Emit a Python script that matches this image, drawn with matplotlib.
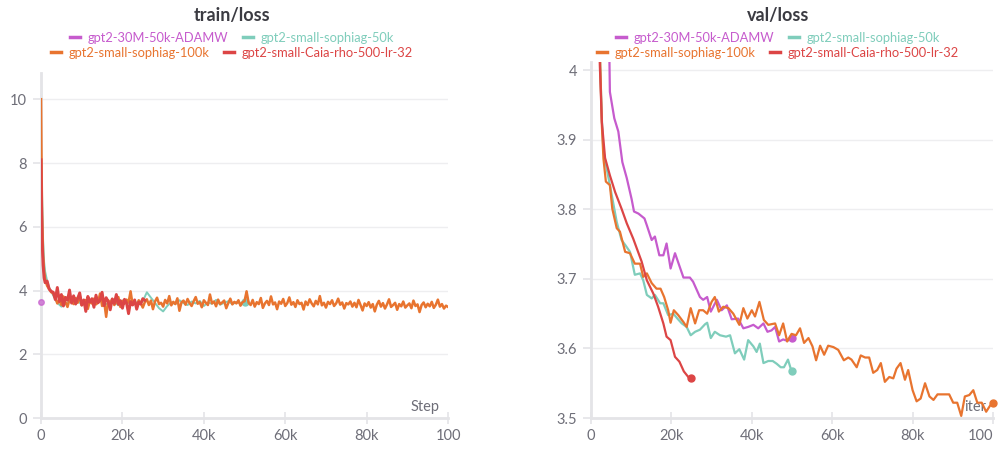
import numpy as np
import matplotlib
matplotlib.use("Agg")
import matplotlib.pyplot as plt
from matplotlib.lines import Line2D

plt.rcParams['font.family'] = ['Lato', 'DejaVu Sans']

# ---- colours / labels ----
names = ["gpt2-30M-50k-ADAMW", "gpt2-small-sophiag-50k",
         "gpt2-small-sophiag-100k", "gpt2-small-Caia-rho-500-lr-32"]
colors = ["#c65bcd", "#7fcdbb", "#e8742f", "#dc4545"]

# ---- train/loss ----
LOG_EVERY = 500

adamw_train_steps = [0]
adamw_train = [3.63]

teal_train_head_steps = [0, 100, 250, 500, 750, 1000, 1500, 2000, 3000, 4000, 5000]
teal_train_head = [10.6, 8.9, 7.0, 5.6, 4.9, 4.6, 4.3, 4.1, 3.85, 3.62, 3.5]
teal_train_tail = [3.58, 3.66, 3.61, 3.70, 3.55, 3.64, 3.68, 3.59, 3.62, 3.72,
                   3.57, 3.63, 3.66, 3.54, 3.69, 3.61, 3.58, 3.65, 3.60, 3.67,
                   3.95, 3.78, 3.62, 3.45, 3.35, 3.52, 3.64, 3.58, 3.70, 3.61,
                   3.55, 3.66, 3.60, 3.68, 3.52, 3.63, 3.59, 3.71, 3.56, 3.62,
                   3.67, 3.58, 3.64, 3.60, 3.65]

orange_train_head_steps = [0, 100, 250, 500, 750, 1000, 1500, 2000, 2500]
orange_train_head = [10.0, 8.3, 6.4, 5.1, 4.6, 4.35, 4.15, 4.05, 3.95]
orange_train_tail = [
    3.92, 3.78, 3.60, 3.71, 3.55, 3.82, 3.64, 3.49, 3.73, 3.68,
    3.58, 3.77, 3.62, 3.85, 3.54, 3.66, 3.71, 3.43, 3.69, 3.60,
    3.75, 3.57, 3.63, 3.91, 3.52, 3.67, 3.18, 3.70, 3.61, 3.74,
    3.55, 3.65, 3.80, 3.49, 3.68, 3.59, 3.72, 3.63, 3.98, 3.56,
    3.66, 3.52, 3.70, 3.61, 3.47,
    3.64, 3.73, 3.55, 3.69, 3.42, 3.66, 3.78, 3.58, 3.62, 3.50,
    3.71, 3.60, 3.83, 3.54, 3.65, 3.58, 3.76, 3.37, 3.63, 3.69,
    3.56, 3.74, 3.61, 3.52, 3.67, 3.80, 3.59, 3.64, 3.48, 3.70,
    3.62, 3.55, 3.88, 3.60, 3.66, 3.51, 3.72, 3.58, 3.63, 3.69,
    3.45, 3.61, 3.75, 3.57, 3.65, 3.60, 3.70, 3.53, 3.64, 3.67,
    3.98, 3.62, 3.55, 3.71, 3.50, 3.64, 3.58, 3.77, 3.46, 3.60,
    3.68, 3.55, 3.82, 3.57, 3.63, 3.42, 3.66, 3.59, 3.74, 3.52,
    3.61, 3.79, 3.56, 3.64, 3.49, 3.70, 3.58, 3.62, 3.41, 3.66,
    3.55, 3.73, 3.60, 3.51, 3.68, 3.57, 3.83, 3.54, 3.62, 3.47,
    3.65, 3.58, 3.70, 3.52, 3.60, 3.75, 3.56, 3.63, 3.44, 3.61,
    3.57, 3.66, 3.50, 3.62, 3.48, 3.71, 3.55, 3.38, 3.60, 3.52,
    3.64, 3.47, 3.58, 3.35, 3.56, 3.68, 3.50, 3.61, 3.44, 3.57,
    3.73, 3.49, 3.55, 3.62, 3.40, 3.58, 3.51, 3.66, 3.47, 3.54,
    3.60, 3.45, 3.69, 3.52, 3.57, 3.33, 3.55, 3.63, 3.48, 3.59,
    3.51, 3.65, 3.46, 3.56, 3.72, 3.50, 3.58, 3.44, 3.53, 3.49]

red_train_head_steps = [0, 100, 250, 500, 750, 1000, 1500, 2000, 2500]
red_train_head = [8.1, 6.9, 5.6, 4.8, 4.4, 4.25, 4.3, 4.05, 3.98]
red_train_tail = [3.95, 3.72, 4.10, 3.66, 3.88, 3.52, 3.79, 3.70, 4.02, 3.61,
                  3.84, 3.58, 3.76, 3.93, 3.55, 3.71, 3.35, 3.82, 3.64, 3.75,
                  3.48, 3.86, 3.62, 3.70, 3.95, 3.53, 3.78, 3.66, 3.40, 3.74,
                  3.60, 3.88, 3.57, 3.69, 3.45, 3.73, 3.62, 3.28, 3.66, 3.55,
                  3.71, 3.42, 3.64, 3.58, 3.75, 3.70]

# ---- val/loss (steps in k) ----
adamw_val_x = [4.5, 4.7, 5.8, 6.8, 7.8, 8.9, 10.1, 10.7, 11.8, 13.3, 13.9, 15.1, 15.9,
               17.0, 18.0, 18.8, 19.8, 20.9, 23.0, 24.6, 25.4, 27.1, 27.9, 28.9, 29.8,
               31.3, 32.5, 33.8, 35.0, 36.6, 37.9, 39.1, 40.4, 41.6, 42.9, 43.9, 44.9,
               45.8, 46.8, 47.8, 48.8, 49.9]
adamw_val = [4.05, 3.969, 3.931, 3.912, 3.868, 3.845, 3.815, 3.797, 3.794, 3.787, 3.777,
             3.756, 3.761, 3.734, 3.734, 3.751, 3.715, 3.737, 3.702, 3.702, 3.696, 3.674,
             3.670, 3.674, 3.653, 3.670, 3.655, 3.662, 3.642, 3.643, 3.629, 3.631, 3.634,
             3.629, 3.636, 3.624, 3.626, 3.631, 3.610, 3.613, 3.611, 3.615]

teal_val_x = [1.8, 2.7, 3.1, 4.7, 6.4, 7.6, 8.5, 9.7, 10.9, 12.2, 13.0, 13.9, 15.1, 15.9,
              17.2, 18.0, 19.2, 20.5, 21.5, 22.6, 23.8, 24.8, 25.9, 27.1, 28.4, 28.9,
              29.8, 30.8, 32.1, 33.6, 34.6, 35.8, 36.9, 38.1, 39.1, 40.4, 41.2, 42.0,
              42.9, 44.1, 45.2, 46.2, 47.2, 48.0, 49.0, 49.9]
teal_val = [4.10, 3.93, 3.883, 3.835, 3.782, 3.756, 3.749, 3.739, 3.706, 3.708, 3.698,
            3.677, 3.672, 3.677, 3.665, 3.665, 3.648, 3.650, 3.643, 3.636, 3.631, 3.619,
            3.624, 3.627, 3.635, 3.637, 3.615, 3.624, 3.619, 3.617, 3.619, 3.593, 3.599,
            3.584, 3.612, 3.603, 3.595, 3.607, 3.579, 3.582, 3.582, 3.578, 3.573, 3.573,
            3.584, 3.567]

orange_val_x = [1.8, 2.7, 3.1, 3.7, 4.7, 5.3, 6.4, 7.2, 8.5, 9.7, 10.9, 12.2, 13.0, 13.9,
                15.1, 16.3, 17.3, 18.2, 19.2, 19.8, 20.6, 21.7, 23.0, 23.8, 24.8, 25.9,
                26.9, 27.9, 28.9, 30.0, 30.8, 31.8, 32.9, 34.2, 35.4, 36.9, 37.9, 38.9,
                40.0, 40.8, 41.9, 43.0, 44.1, 45.8, 46.8, 47.8, 48.8, 49.9, 51.0, 52.0,
                53.0, 54.1, 55.1, 56.0, 57.0, 58.0, 59.0, 60.3, 61.5, 62.9, 64.0, 64.8,
                66.1, 67.1, 68.2, 69.2, 70.2, 71.2, 72.1, 73.1, 74.2, 75.2, 76.0, 77.0,
                78.1, 78.9, 80.0, 81.0, 82.0, 83.1, 84.2, 85.2, 86.2, 87.5, 89.1, 90.1,
                91.1, 92.1, 93.0, 94.1, 95.1, 96.1, 97.2, 98.3, 99.3, 100.0]
orange_val = [4.12, 3.921, 3.873, 3.840, 3.835, 3.801, 3.773, 3.768, 3.739, 3.737, 3.722,
              3.722, 3.703, 3.708, 3.694, 3.686, 3.686, 3.674, 3.655, 3.637, 3.655, 3.648,
              3.638, 3.631, 3.658, 3.636, 3.655, 3.655, 3.650, 3.667, 3.674, 3.653, 3.660,
              3.658, 3.650, 3.634, 3.658, 3.643, 3.655, 3.646, 3.667, 3.641, 3.634, 3.636,
              3.619, 3.636, 3.610, 3.621, 3.619, 3.629, 3.608, 3.615, 3.603, 3.583, 3.604,
              3.591, 3.604, 3.602, 3.598, 3.583, 3.587, 3.584, 3.573, 3.590, 3.587, 3.587,
              3.565, 3.569, 3.579, 3.552, 3.559, 3.557, 3.571, 3.579, 3.555, 3.569, 3.540,
              3.524, 3.528, 3.550, 3.531, 3.526, 3.534, 3.534, 3.534, 3.522, 3.522, 3.503,
              3.531, 3.533, 3.540, 3.522, 3.522, 3.509, 3.518, 3.521]

red_val_x = [1.5, 2.2, 2.7, 3.5, 4.7, 6.0, 7.6, 8.9, 10.5, 12.6, 13.9, 15.5, 16.7, 18.0,
             18.8, 19.8, 20.9, 22.0, 23.1, 24.2, 25.0]
red_val = [4.20, 4.007, 3.926, 3.874, 3.849, 3.825, 3.801, 3.780, 3.758, 3.725, 3.698,
           3.679, 3.660, 3.636, 3.617, 3.612, 3.588, 3.581, 3.567, 3.559, 3.558]

tick_pos = [0, 20000, 40000, 60000, 80000, 100000]
tick_labels = ["0", "20k", "40k", "60k", "80k", "100"]

# ---- style ----
text_col = "#3b3b42"
tick_col = "#6e6e78"
axis_col = "#e4e4e7"
grid_col = "#eeeef0"

fig = plt.figure(figsize=(10.01, 4.5), dpi=100)
ax1 = fig.add_axes([0.041, 0.0704, 0.4066, 0.768])
ax2 = fig.add_axes([0.5904, 0.0711, 0.4016, 0.7911])


def style(ax):
    for s in ["top", "right"]:
        ax.spines[s].set_visible(False)
    for s in ["left", "bottom"]:
        ax.spines[s].set_color(axis_col)
        ax.spines[s].set_linewidth(2)
    ax.tick_params(axis="both", colors=axis_col, labelcolor=tick_col, labelsize=10.5,
                   width=1.2)
    ax.tick_params(axis="x", direction="inout", length=8, pad=4)
    ax.tick_params(axis="y", length=6, pad=4)
    ax.grid(axis="y", color=grid_col, linewidth=1)
    ax.set_axisbelow(True)


def steps_for(head_steps, tail, start):
    return list(head_steps) + [start + i * LOG_EVERY for i in range(len(tail))]


# train
teal_steps = list(teal_train_head_steps) + [6000 + i * 1000 for i in range(len(teal_train_tail))]
ax1.plot(teal_steps, teal_train_head + teal_train_tail, color=colors[1], lw=1.4, zorder=2)
ax1.plot(teal_steps[-1], teal_train_tail[-1], "o", color=colors[1], ms=5, zorder=2)
ax1.plot(steps_for(orange_train_head_steps, orange_train_tail, 3000),
         orange_train_head + orange_train_tail, color=colors[2], lw=1.8, zorder=3)
ax1.plot(steps_for(red_train_head_steps, red_train_tail, 3000),
         red_train_head + red_train_tail, color=colors[3], lw=2.1, zorder=4)
ax1.plot(adamw_train_steps, adamw_train, "o", color=colors[0], ms=4, alpha=0.7,
         zorder=5, clip_on=False)

ax1.set_xlim(0, 100000)
ax1.set_ylim(0, 10.83)
ax1.set_xticks(tick_pos)
ax1.set_xticklabels(tick_labels)
ax1.set_yticks([0, 2, 4, 6, 8, 10])
style(ax1)
ax1.text(0.98, 0.034, "Step", transform=ax1.transAxes, ha="right", va="center",
         color=tick_col, fontsize=10.5)

# val
val_series = [(adamw_val_x, adamw_val, 3), (teal_val_x, teal_val, 2),
              (orange_val_x, orange_val, 4), (red_val_x, red_val, 5)]
for i, (vx, vy, z) in enumerate(val_series):
    xs = np.array(vx) * 1000
    ax2.plot(xs, vy, color=colors[i], lw=1.6, zorder=z)
    ax2.plot(xs[-1], vy[-1], "o", color=colors[i], ms=5, zorder=z, clip_on=False)

ax2.set_xlim(0, 100000)
ax2.set_ylim(3.5, 4.012)
ax2.set_xticks(tick_pos)
ax2.set_xticklabels(tick_labels)
ax2.get_xticklabels()[-1].set_ha("right")
ax2.set_yticks([3.5, 3.6, 3.7, 3.8, 3.9, 4.0])
ax2.set_yticklabels(["3.5", "3.6", "3.7", "3.8", "3.9", "4"])
style(ax2)
ax2.text(0.984, 0.032, "iter", transform=ax2.transAxes, ha="right", va="center",
         color=tick_col, fontsize=10.5)

# titles and legends
handles = [Line2D([], [], color=c, lw=2.5) for c in colors]
for cx, title in [(0.2318, "train/loss"), (0.7772, "val/loss")]:
    fig.text(cx, 1 - 16 / 450, title, ha="center", va="center", fontsize=13,
             fontweight="bold", color=text_col)
    for row, cy in [((0, 1), 1 - 38 / 450), ((2, 3), 1 - 53 / 450)]:
        leg = fig.legend([handles[j] for j in row], [names[j] for j in row],
                         loc="center", bbox_to_anchor=(cx, cy), ncol=2, frameon=False,
                         handlelength=0.8, handletextpad=0.6, columnspacing=1.1,
                         fontsize=9.3, labelcolor="linecolor", borderpad=0,
                         borderaxespad=0)

fig.savefig("out.png", dpi=100)
